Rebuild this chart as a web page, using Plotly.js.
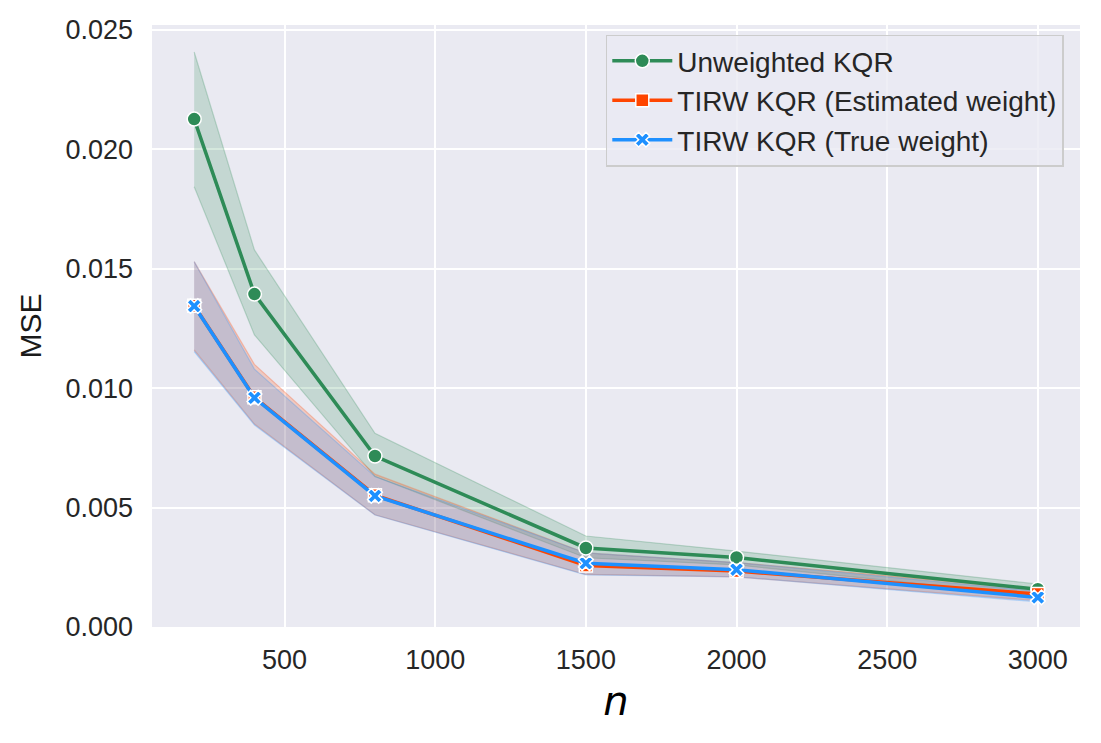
<!DOCTYPE html>
<html>
<head>
<meta charset="utf-8">
<script src="https://cdn.plot.ly/plotly-3.0.1.min.js"></script>
<style>
  body { margin: 0; background: white; }
  #grafico { width: 1101px; height: 743px; }
</style>
</head>
<body>
<div id="grafico"></div>
<script>
//================= Dados =================

var n = [200, 400, 800, 1500, 2000, 3000];

// Unweighted KQR
var unwMedia = [0.02127, 0.01394, 0.00716, 0.00331, 0.00291, 0.00158];
var unwBaixo = [0.01844, 0.01223, 0.00630, 0.00290, 0.00260, 0.00130];
var unwAlto = [0.02408, 0.01579, 0.00811, 0.00381, 0.00318, 0.00180];

// TIRW KQR (Estimated weight)
var estMedia = [0.01345, 0.00962, 0.00552, 0.00258, 0.00234, 0.00138];
var estBaixo = [0.01160, 0.00850, 0.00470, 0.00220, 0.00210, 0.00110];
var estAlto = [0.01530, 0.01100, 0.00640, 0.00310, 0.00270, 0.00160];

// TIRW KQR (True weight)
var truMedia = [0.01344, 0.00960, 0.00549, 0.00267, 0.00240, 0.00124];
var truBaixo = [0.01153, 0.00846, 0.00469, 0.00218, 0.00210, 0.00105];
var truAlto = [0.01530, 0.01080, 0.00630, 0.00310, 0.00270, 0.00150];

var nomes = ["Unweighted KQR", "TIRW KQR (Estimated weight)", "TIRW KQR (True weight)"];
var xTicks = [500, 1000, 1500, 2000, 2500, 3000];

//================= Estilo =================
var cores = ["#2E8B57", "#FF4500", "#1E90FF"];
var coresBanda = ["rgba(46,139,87,0.2)", "rgba(255,69,0,0.2)", "rgba(30,144,255,0.2)"];
var coresBorda = ["rgba(46,139,87,0.25)", "rgba(255,69,0,0.25)", "rgba(30,144,255,0.25)"];
var simbolos = ["circle", "square", "x"];

function banda(baixo, alto, i) {
  // faixa de confianca: borda de baixo, depois a de cima preenchida ate ela
  var lo = {x: n, y: baixo, mode: "lines", type: "scatter", showlegend: false, hoverinfo: "skip",
    line: {color: coresBorda[i], width: 1.2}};
  var hi = {x: n, y: alto, mode: "lines", type: "scatter", showlegend: false, hoverinfo: "skip",
    fill: "tonexty", fillcolor: coresBanda[i],
    line: {color: coresBorda[i], width: 1.2}};
  return [lo, hi];
}

function linha(media, i) {
  return {x: n, y: media, name: nomes[i], mode: "lines+markers", type: "scatter",
    line: {color: cores[i], width: 3.5},
    marker: {symbol: simbolos[i], size: (i == 0 ? 14 : 13), color: cores[i],
      line: {color: "white", width: 1.5}}};
}

var data = []
  .concat(banda(unwBaixo, unwAlto, 0))
  .concat(banda(estBaixo, estAlto, 1))
  .concat(banda(truBaixo, truAlto, 2));
data.push(linha(unwMedia, 0));
data.push(linha(estMedia, 1));
data.push(linha(truMedia, 2));

var fonteTick = {family: "Liberation Sans, Arial, sans-serif", size: 27, color: "#262626"};

var layout = {
  width: 1101,
  height: 743,
  margin: {l: 152, r: 21, t: 25, b: 116},
  paper_bgcolor: "white",
  plot_bgcolor: "#EAEAF2",
  showlegend: true,
  legend: {
    x: 0.489, y: 0.984, xanchor: "left", yanchor: "top",
    traceorder: "normal",
    bgcolor: "rgba(234,234,242,0.8)",
    bordercolor: "#CCCCCC", borderwidth: 1.5,
    font: {family: "Liberation Sans, Arial, sans-serif", size: 28, color: "#262626"},
    itemwidth: 60
  },
  xaxis: {
    type: "linear",
    range: [60, 3140],
    tickvals: xTicks,
    ticks: "",
    showline: false,
    zeroline: false,
    gridcolor: "white",
    gridwidth: 2,
    tickfont: fonteTick,
    ticklabelstandoff: 14,
    title: {text: "<i>n</i>", standoff: 12,
      font: {family: "DejaVu Sans, sans-serif", size: 40, color: "black"}}
  },
  yaxis: {
    range: [0, 0.02521],
    tick0: 0,
    dtick: 0.005,
    tickformat: ".3f",
    ticks: "",
    showline: false,
    zeroline: false,
    gridcolor: "white",
    gridwidth: 2,
    tickfont: fonteTick,
    ticklabelstandoff: 18,
    title: {text: "MSE", standoff: 14,
      font: {family: "Liberation Sans, Arial, sans-serif", size: 30, color: "#1a1a1a"}}
  }
};

Plotly.newPlot("grafico", data, layout, {staticPlot: true});
</script>
</body>
</html>
